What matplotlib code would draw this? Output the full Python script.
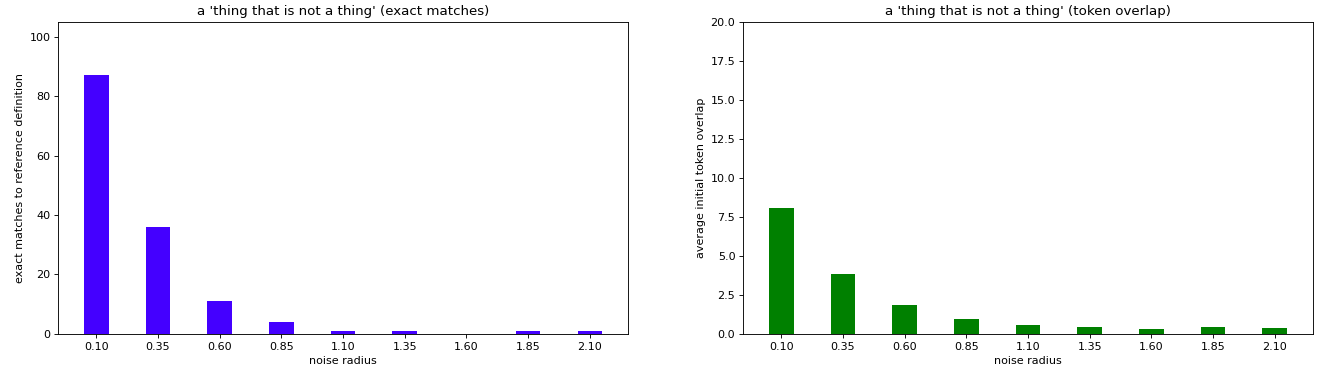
import matplotlib
matplotlib.use("Agg")
import matplotlib.pyplot as plt
import numpy as np

radii = ["0.10", "0.35", "0.60", "0.85", "1.10", "1.35", "1.60", "1.85", "2.10"]
exact_matches = [87, 36, 11, 4, 1, 1, 0, 1, 1]
token_overlap = [8.1, 3.85, 1.87, 0.92, 0.58, 0.46, 0.32, 0.46, 0.40]

fig, (ax1, ax2) = plt.subplots(1, 2, figsize=(1321 / 80, 373 / 80), dpi=80)
fig.subplots_adjust(left=0.044, right=0.994, bottom=0.105, top=0.941, wspace=0.2018)

x = np.arange(len(radii))

# exact matches
ax1.bar(x, exact_matches, width=0.4, color="#4400ff")
ax1.set_xticks(x)
ax1.set_xticklabels(radii)
ax1.set_ylim(0, 105)
ax1.set_xlabel("noise radius")
ax1.set_ylabel("exact matches to reference definition")
ax1.set_title("a 'thing that is not a thing' (exact matches)")

# token overlap
ax2.bar(x, token_overlap, width=0.4, color="green")
ax2.set_xticks(x)
ax2.set_xticklabels(radii)
ax2.set_ylim(0, 20)
ax2.set_yticks(np.arange(0, 20.1, 2.5))
ax2.yaxis.set_major_formatter(matplotlib.ticker.FormatStrFormatter("%.1f"))
ax2.set_xlabel("noise radius")
ax2.set_ylabel("average initial token overlap")
ax2.set_title("a 'thing that is not a thing' (token overlap)")

fig.savefig("out.png", dpi=80)
